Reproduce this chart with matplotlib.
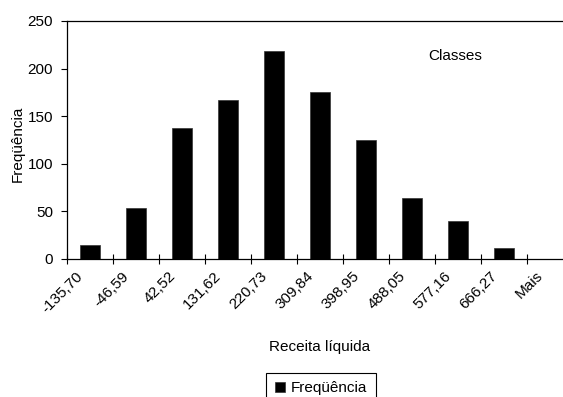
import numpy as np
import matplotlib
matplotlib.use("Agg")
import matplotlib.pyplot as plt
import matplotlib.transforms as mtransforms
from matplotlib.ticker import FixedLocator, NullFormatter

plt.rcParams['font.family'] = ['Liberation Sans', 'DejaVu Sans']

# class upper limits (histogram bins) and counts
classes = ['-135,70', '-46,59', '42,52', '131,62', '220,73', '309,84',
           '398,95', '488,05', '577,16', '666,27', 'Mais']
frequencia = [15, 54, 138, 167, 218, 175, 125, 64, 40, 12, 0]
y_ticks = [0, 50, 100, 150, 200, 250]

FS = 11

fig = plt.figure(figsize=(5.63, 3.97), dpi=100)
# the original Excel chart is cropped on the right, so the axes run past the figure edge
ax = fig.add_axes([67/563, 1 - 259/397, 506/563, 238/397])

x = np.arange(len(classes))
bars = ax.bar(x, frequencia, width=0.43, color='black', edgecolor='#333333',
              linewidth=0.5, label='Freqüência', zorder=2)

ax.set_xlim(-0.5, len(classes) - 0.5)
ax.set_ylim(0, 250)
ax.set_yticks(y_ticks)
ax.tick_params(axis='y', direction='out', length=4, width=0.8, labelsize=FS, pad=6)

# tick marks between categories, labels at category centres
ax.xaxis.set_major_locator(FixedLocator(np.arange(-0.5, len(classes) - 0.5, 1.0)))
ax.xaxis.set_major_formatter(NullFormatter())
ax.xaxis.set_minor_locator(FixedLocator(x))
ax.set_xticklabels(classes, minor=True, rotation=45, ha='right', va='top',
                   rotation_mode='anchor', fontsize=FS)
ax.tick_params(axis='x', which='major', direction='inout', length=7, width=0.8)
ax.tick_params(axis='x', which='minor', length=0, pad=0)
shift = mtransforms.ScaledTranslation(-14/100, -10/100, fig.dpi_scale_trans)
for lbl in ax.get_xticklabels(minor=True):
    lbl.set_transform(lbl.get_transform() + shift)

for side in ['left', 'bottom', 'top']:
    ax.spines[side].set_linewidth(0.9)
    ax.spines[side].set_color('black')
ax.spines['right'].set_visible(False)

ax.set_ylabel('Freqüência', fontsize=FS)
ax.yaxis.set_label_coords((25 - 67) / 506, (259 - 144) / 238)
ax.set_xlabel('Receita líquida', fontsize=FS)
ax.xaxis.set_label_coords((320 - 67) / 506, -(340 - 259) / 238)

ax.text((455 - 67) / 506, (259 - 56) / 238, 'Classes', transform=ax.transAxes,
        ha='center', va='center', fontsize=FS)

leg = fig.legend(handles=[bars], loc='upper center',
                 bbox_to_anchor=(321 / 563, 1 - 373 / 397), fontsize=FS,
                 fancybox=False, edgecolor='black', framealpha=1,
                 handlelength=0.7, handleheight=0.7, handletextpad=0.35,
                 borderpad=0.55, borderaxespad=0)
leg.get_frame().set_linewidth(0.8)

fig.savefig('out.png', dpi=100)
